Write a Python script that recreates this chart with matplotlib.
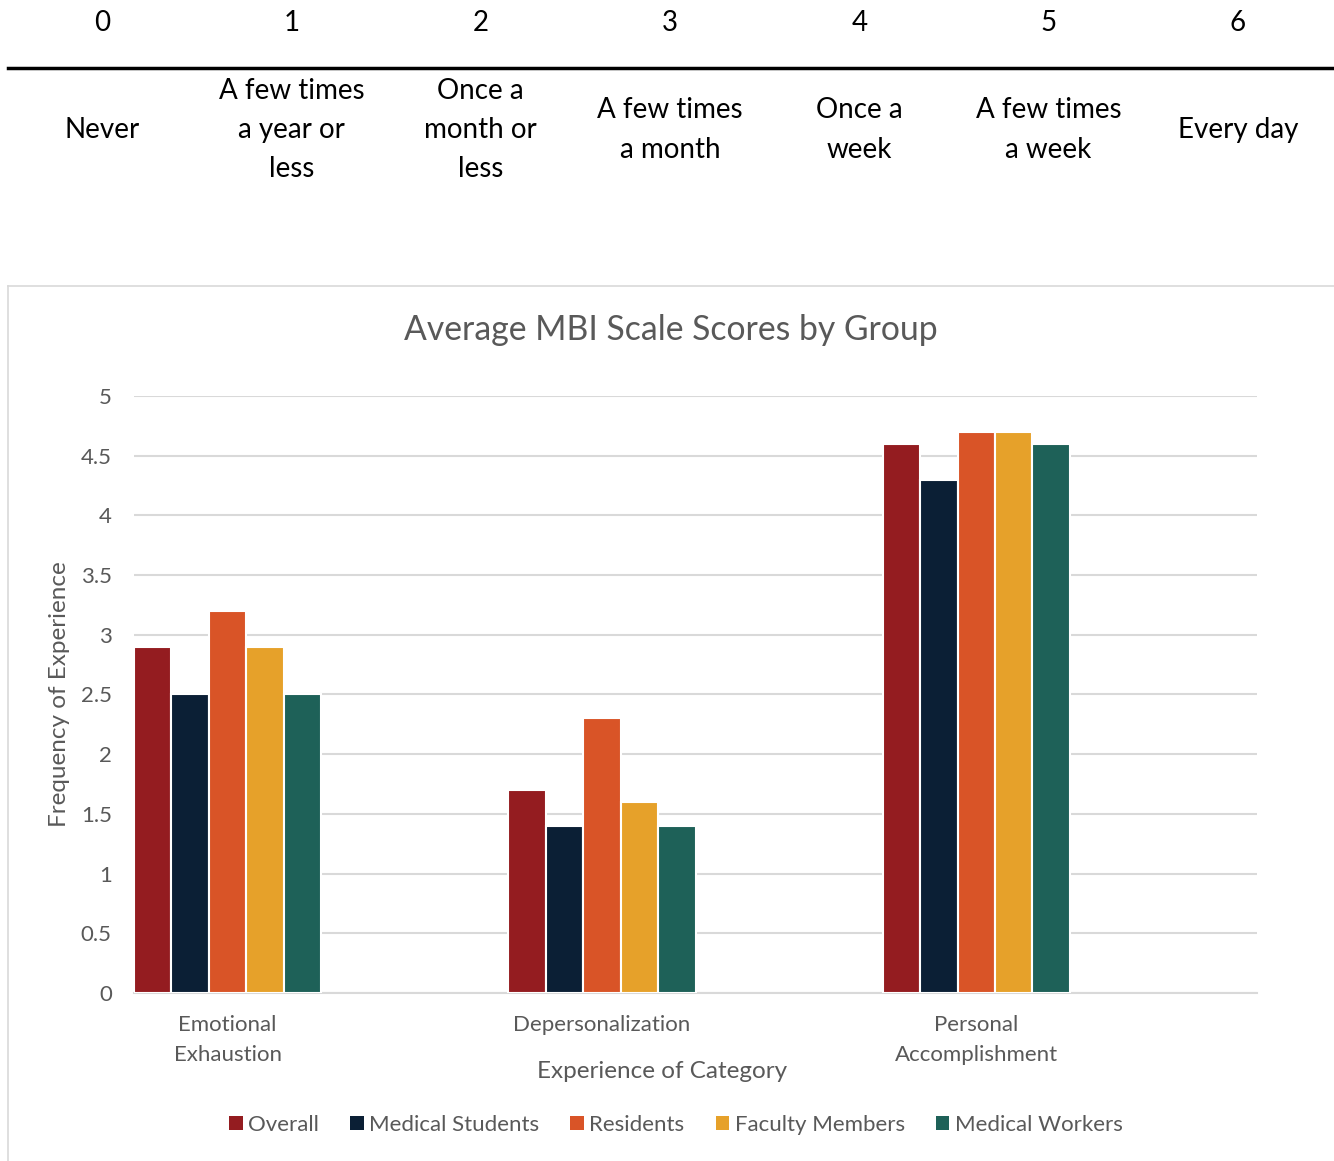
import matplotlib.pyplot as plt
from matplotlib.lines import Line2D
from matplotlib.patches import Patch
import numpy as np

# Frequency scale shown above the chart
scale_values = ['0', '1', '2', '3', '4', '5', '6']
scale_labels = ['Never', 'A few times\na year or\nless', 'Once a\nmonth or\nless',
                'A few times\na month', 'Once a\nweek', 'A few times\na week', 'Every day']

# MBI scale averages
categories = ['Emotional\nExhaustion', 'Depersonalization', 'Personal\nAccomplishment']
groups = ['Overall', 'Medical Students', 'Residents', 'Faculty Members', 'Medical Workers']
overall = [2.9, 1.7, 4.6]
medical_students = [2.5, 1.4, 4.3]
residents = [3.2, 2.3, 4.7]
faculty_members = [2.9, 1.6, 4.7]
medical_workers = [2.5, 1.4, 4.6]
series = [overall, medical_students, residents, faculty_members, medical_workers]
colors = ['#941C20', '#0B1F35', '#D95427', '#E6A12A', '#1E6158']

W, H = 1334, 1161
plt.rcParams['font.family'] = ['Lato', 'DejaVu Sans']
fig = plt.figure(figsize=(W / 100, H / 100), dpi=100)

def fx(px):
    return px / W

def fy(py):
    return 1 - py / H

# Scale table: numbers, rule, descriptions
col_x = np.linspace(102, 1238, len(scale_values))
for x, v, lab in zip(col_x, scale_values, scale_labels):
    fig.text(fx(x), fy(23), v, ha='center', va='center', fontsize=20, color='black')
    fig.text(fx(x), fy(130), lab, ha='center', va='center', fontsize=20,
             color='black', linespacing=1.64)
fig.add_artist(Line2D([fx(8), fx(1332)], [fy(68), fy(68)], color='black', lw=2.5))

# Chart frame
fig.add_artist(Line2D([fx(8), fx(1334)], [fy(286), fy(286)], color='#D9D9D9', lw=1.2))
fig.add_artist(Line2D([fx(8), fx(8)], [fy(286), fy(1161)], color='#D9D9D9', lw=1.2))

ax = fig.add_axes([fx(134), fy(993), fx(1257) - fx(134), fy(396) - fy(993)])

x = np.arange(len(categories))
n = len(series)
slot = 0.5 / n
for i, (vals, c, g) in enumerate(zip(series, colors, groups)):
    ax.bar(x - 0.25 + slot * (i + 0.5), vals, width=slot, color=c,
           edgecolor='white', linewidth=1.5, label=g, zorder=3)

ax.set_xlim(-0.25, len(categories) - 0.25)
ax.set_ylim(0, 5)
ax.set_yticks(np.arange(0, 5.01, 0.5))
ax.set_yticklabels(['0', '0.5', '1', '1.5', '2', '2.5', '3', '3.5', '4', '4.5', '5'])
ax.set_xticks(x)
ax.set_xticklabels(categories, linespacing=1.6)
ax.tick_params(axis='both', length=0, labelsize=16, labelcolor='#595959')
ax.tick_params(axis='y', pad=16)
ax.tick_params(axis='x', pad=16)
ax.grid(axis='y', color='#D9D9D9', lw=1.5, zorder=0)
for s in ['top', 'right', 'left']:
    ax.spines[s].set_visible(False)
ax.spines['bottom'].set_color('#D9D9D9')
ax.spines['bottom'].set_linewidth(1.5)

fig.text(fx(671), fy(330), 'Average MBI Scale Scores by Group', ha='center', va='center',
         fontsize=24.3, color='#595959')
fig.text(fx(60), fy(694), 'Frequency of Experience', ha='center', va='center',
         rotation=90, fontsize=17.5, color='#595959')
fig.text(fx(662), fy(1071), 'Experience of Category', ha='center', va='center',
         fontsize=17.5, color='#595959')

handles = [Patch(facecolor=c, label=g) for c, g in zip(colors, groups)]
fig.legend(handles=handles, loc='center', bbox_to_anchor=(fx(676), fy(1125)), ncol=5,
           frameon=False, fontsize=16, labelcolor='#595959', handlelength=0.6,
           handleheight=0.6, handletextpad=0.25, columnspacing=1.4)

plt.savefig('out.png', dpi=100)
